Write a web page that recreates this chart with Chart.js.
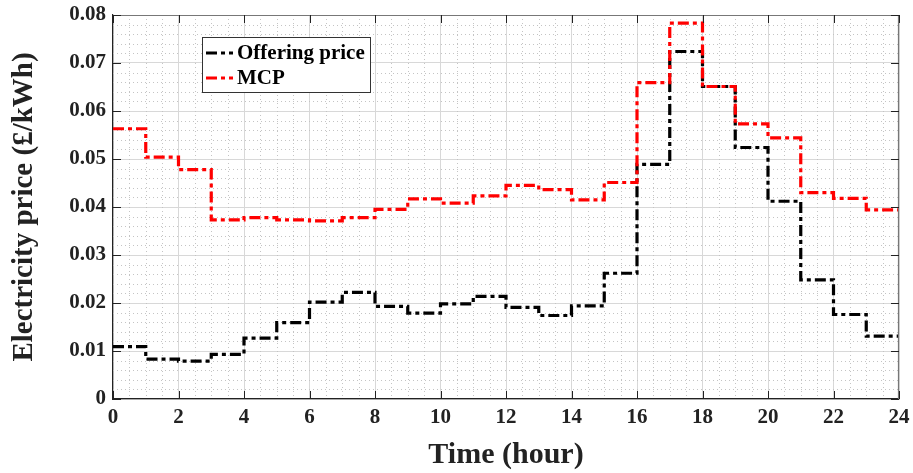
<!DOCTYPE html>
<html>
<head>
<meta charset="utf-8">
<script src="https://cdn.jsdelivr.net/npm/chart.js@4/dist/chart.umd.min.js"></script>
<style>
  html, body { margin: 0; padding: 0; background: #fff; }
  #wrap { width: 913px; height: 473px; }
</style>
</head>
<body>
<div id="wrap"><canvas id="price"></canvas></div>
<script>
// hourly prices, hour h holds from h to h+1
var hours = [0, 1, 2, 3, 4, 5, 6, 7, 8, 9, 10, 11, 12, 13, 14, 15, 16, 17, 18, 19, 20, 21, 22, 23];
var offeringPrice = [0.0109, 0.0083, 0.0079, 0.0093, 0.0127, 0.0159, 0.0202, 0.0222, 0.0193, 0.0179, 0.0198, 0.0214,
                     0.0191, 0.0174, 0.0194, 0.0262, 0.0489, 0.0724, 0.0651, 0.0524, 0.0412, 0.0248, 0.0176, 0.0131];
var mcp = [0.0563, 0.0504, 0.0478, 0.0373, 0.0378, 0.0373, 0.0371, 0.0378, 0.0395, 0.0417, 0.0408, 0.0423,
           0.0445, 0.0436, 0.0415, 0.0451, 0.0659, 0.0783, 0.0651, 0.0573, 0.0544, 0.0430, 0.0418, 0.0394];
var xTickLabels = ['0', '2', '4', '6', '8', '10', '12', '14', '16', '18', '20', '22', '24'];
var yTickLabels = ['0', '0.01', '0.02', '0.03', '0.04', '0.05', '0.06', '0.07', '0.08'];

var serif = 'Liberation Serif, Times New Roman, serif';
var dashDot = [11, 4, 4, 4];

// stairs: each hour is a step, closed off at the end of the last hour
function stairs(vals) {
    var pts = hours.map(function (h, i) { return { x: h, y: vals[i] }; });
    pts.push({ x: hours[hours.length - 1] + 1, y: vals[vals.length - 1] });
    return pts;
}

var extras = {
    id: 'extras',
    beforeDatasetsDraw: function (chart) {
        var ctx = chart.ctx, a = chart.chartArea;
        var xs = chart.scales.x, ys = chart.scales.y;
        ctx.save();
        ctx.strokeStyle = '#c4c4c4';
        ctx.lineWidth = 1;
        ctx.setLineDash([1, 3]);
        for (var h = 0.5; h < 24; h += 0.5) {
            if (h % 2 === 0) continue;
            var px = Math.round(xs.getPixelForValue(h)) + 0.5;
            ctx.beginPath(); ctx.moveTo(px, a.top); ctx.lineTo(px, a.bottom); ctx.stroke();
        }
        for (var k = 1; k < 40; k++) {
            if (k % 5 === 0) continue;
            var py = Math.round(ys.getPixelForValue(k * 0.002)) + 0.5;
            ctx.beginPath(); ctx.moveTo(a.left, py); ctx.lineTo(a.right, py); ctx.stroke();
        }
        ctx.restore();
    },
    afterDatasetsDraw: function (chart) {
        var ctx = chart.ctx, a = chart.chartArea;
        var xs = chart.scales.x, ys = chart.scales.y;
        ctx.save();
        // top and right edges of the box
        ctx.strokeStyle = '#777';
        ctx.lineWidth = 1.2;
        ctx.beginPath();
        ctx.moveTo(a.left, a.top + 0.5); ctx.lineTo(a.right - 0.5, a.top + 0.5); ctx.lineTo(a.right - 0.5, a.bottom);
        ctx.stroke();
        // inward tick marks
        ctx.strokeStyle = '#222';
        ctx.lineWidth = 1;
        xs.ticks.forEach(function (t) {
            var px = Math.round(xs.getPixelForValue(t.value)) + 0.5;
            ctx.beginPath(); ctx.moveTo(px, a.bottom); ctx.lineTo(px, a.bottom - 8); ctx.stroke();
            ctx.beginPath(); ctx.moveTo(px, a.top); ctx.lineTo(px, a.top + 8); ctx.stroke();
        });
        ys.ticks.forEach(function (t) {
            var py = Math.round(ys.getPixelForValue(t.value)) + 0.5;
            ctx.beginPath(); ctx.moveTo(a.left, py); ctx.lineTo(a.left + 8, py); ctx.stroke();
            ctx.beginPath(); ctx.moveTo(a.right, py); ctx.lineTo(a.right - 8, py); ctx.stroke();
        });
        // legend box
        var lx = 202, ly = 37, lw = 168, lh = 55;
        ctx.fillStyle = '#fff';
        ctx.fillRect(lx, ly, lw, lh);
        ctx.strokeStyle = '#333';
        ctx.lineWidth = 1;
        ctx.strokeRect(lx + 0.5, ly + 0.5, lw, lh);
        ctx.font = 'bold 21px ' + serif;
        ctx.textBaseline = 'middle';
        var items = [chart.data.datasets[1], chart.data.datasets[0]];
        items.forEach(function (ds, i) {
            var cy = ly + 16 + i * 25;
            ctx.strokeStyle = ds.borderColor;
            ctx.lineWidth = 3;
            ctx.setLineDash(dashDot);
            ctx.beginPath(); ctx.moveTo(lx + 4, cy); ctx.lineTo(lx + 31, cy); ctx.stroke();
            ctx.setLineDash([]);
            ctx.fillStyle = '#000';
            ctx.fillText(ds.label, lx + 35, cy + 1);
        });
        ctx.restore();
    }
};

var ctx = document.getElementById('price').getContext('2d');
var priceChart = new Chart(ctx, {
    type: 'line',
    data: {
        datasets: [{
            label: 'MCP',
            data: stairs(mcp),
            borderColor: '#ff0000',
            borderWidth: 3.2,
            borderDash: dashDot,
            stepped: true,
            pointRadius: 0,
            fill: false
        }, {
            label: 'Offering price',
            data: stairs(offeringPrice),
            borderColor: '#000000',
            borderWidth: 3.2,
            borderDash: dashDot,
            stepped: true,
            pointRadius: 0,
            fill: false
        }]
    },
    options: {
        responsive: true,
        maintainAspectRatio: false,
        animation: false,
        layout: { padding: { top: 15, right: 14, left: 0, bottom: 0 } },
        plugins: {
            legend: { display: false },
            tooltip: { enabled: false }
        },
        scales: {
            x: {
                type: 'linear',
                min: 0,
                max: 24,
                afterFit: function (s) { s.height = 74; s.paddingLeft = 0; s.paddingRight = 0; },
                ticks: {
                    stepSize: 2,
                    padding: 6,
                    maxRotation: 0,
                    color: '#222',
                    font: { family: serif, size: 21, weight: 'bold' },
                    callback: function (v) { return xTickLabels[Math.round(v / 2)]; }
                },
                grid: { color: '#d8d8d8', drawTicks: false },
                border: { color: '#222', width: 1.2 },
                title: {
                    display: true,
                    text: 'Time (hour)',
                    color: '#222',
                    padding: { top: 0, bottom: 0 },
                    font: { family: serif, size: 30, weight: 'bold' }
                }
            },
            y: {
                min: 0,
                max: 0.08,
                afterFit: function (s) { s.width = 113; s.paddingTop = 0; s.paddingBottom = 0; },
                ticks: {
                    stepSize: 0.01,
                    padding: 7,
                    color: '#222',
                    font: { family: serif, size: 21, weight: 'bold' },
                    callback: function (v) { return yTickLabels[Math.round(v * 100)]; }
                },
                grid: { color: '#d8d8d8', drawTicks: false },
                border: { color: '#222', width: 1.2 },
                title: {
                    display: true,
                    text: 'Electricity price (£/kWh)',
                    color: '#222',
                    padding: { top: 7, bottom: 0 },
                    font: { family: serif, size: 29, weight: 'bold' }
                }
            }
        }
    },
    plugins: [extras]
});
</script>
</body>
</html>
